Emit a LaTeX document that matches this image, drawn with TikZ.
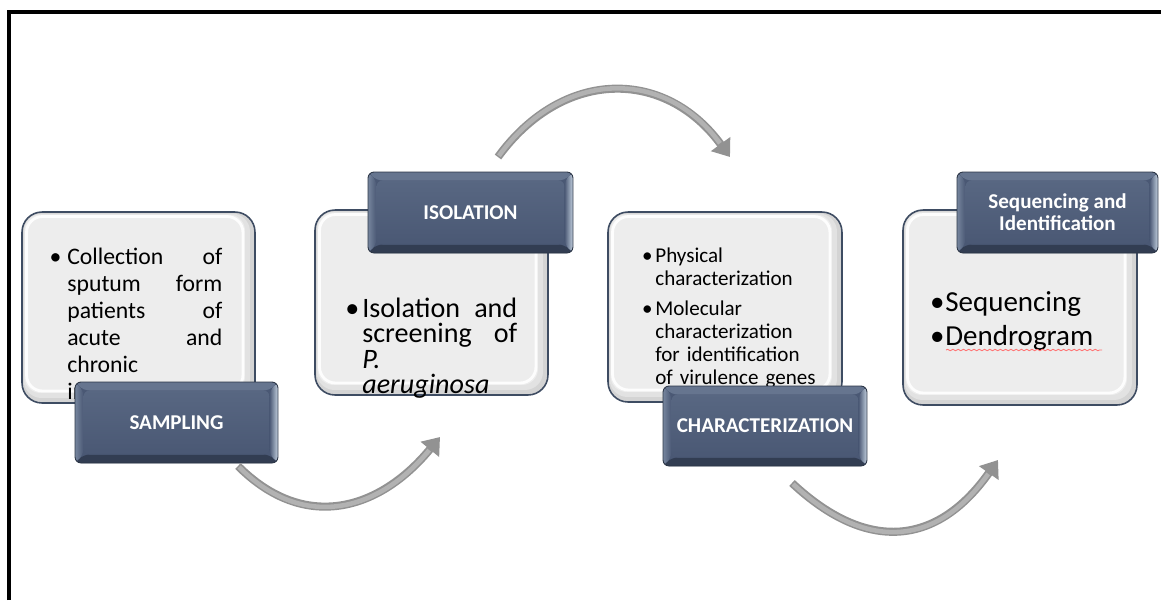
\documentclass[tikz,border=0pt]{standalone}
\usepackage{fontspec}
\setmainfont{Carlito}
\usetikzlibrary{calc,arrows.meta,decorations.pathmorphing}

\definecolor{slateface}{HTML}{4A5874}
\definecolor{slatehi}{HTML}{586782}
\definecolor{slatetop}{HTML}{66758F}
\definecolor{slatebot}{HTML}{323D52}
\definecolor{slateleft}{HTML}{76859E}
\definecolor{slateright}{HTML}{C3D0DF}
\definecolor{slateline}{HTML}{2C3646}
\definecolor{paperfill}{HTML}{EDEDED}
\definecolor{papermid}{HTML}{E2E2E2}
\definecolor{paperedge}{HTML}{D4D4D4}
\definecolor{paperline}{HTML}{3E4C62}
\definecolor{arrowedge}{HTML}{929292}
\definecolor{arrowgray}{HTML}{B2B2B2}

\newcommand{\bul}[1]{\leavevmode\llap{\textbullet\hspace{#1}}}

\tikzset{
  paperbox/.style={draw=paperline, line width=0.9pt, rounded corners=0.4cm, fill=paperfill, inner sep=0pt,
    path picture={
      \path (path picture bounding box.south west) coordinate (pbsw)
            (path picture bounding box.north east) coordinate (pbne);
      \fill[paperedge] (pbsw) rectangle (pbne);
      \fill[papermid, rounded corners=0.36cm] ($(pbsw)+(0.03cm,0.1cm)$) rectangle ($(pbne)+(-0.1cm,-0.03cm)$);
      \fill[paperfill, rounded corners=0.32cm] ($(pbsw)+(0.05cm,0.2cm)$) rectangle ($(pbne)+(-0.2cm,-0.05cm)$);
      \draw[white, line width=1.6pt, rounded corners=0.32cm, opacity=0.9] ($(pbsw)+(0.09cm,0.24cm)$) rectangle ($(pbne)+(-0.24cm,-0.09cm)$);
    }},
  paptext/.style={anchor=base west, inner sep=0pt, align=left},
  slatebox/.style={draw=slateline, line width=0.5pt, rounded corners=0.12cm, fill=slateface, text=white,
    inner sep=0pt, align=center, font=\bfseries\fontsize{12}{13}\selectfont,
    path picture={
      \path (path picture bounding box.south west) coordinate (bvsw)
            (path picture bounding box.north east) coordinate (bvne)
            (path picture bounding box.north west) coordinate (bvnw)
            (path picture bounding box.south east) coordinate (bvse);
      \fill[slatetop] (bvnw) -- (bvne) -- ($(bvne)+(-0.17cm,-0.17cm)$) -- ($(bvnw)+(0.17cm,-0.17cm)$) -- cycle;
      \fill[slatebot] (bvsw) -- (bvse) -- ($(bvse)+(-0.17cm,0.17cm)$) -- ($(bvsw)+(0.17cm,0.17cm)$) -- cycle;
      \shade[left color=slateface, right color=slateright] (bvne) -- (bvse) -- ($(bvse)+(-0.17cm,0.17cm)$) -- ($(bvne)+(-0.17cm,-0.17cm)$) -- cycle;
      \shade[left color=slateleft, right color=slateface] (bvnw) -- ($(bvnw)+(0.17cm,-0.17cm)$) -- ($(bvsw)+(0.17cm,0.17cm)$) -- (bvsw) -- cycle;
      \shade[top color=slatehi, bottom color=slateface] ($(bvsw)+(0.17cm,0.17cm)$) rectangle ($(bvne)+(-0.17cm,-0.17cm)$);
    }},
  flowarrow/.style={draw=arrowedge, line width=4.6pt, -{Triangle[length=0.32cm, width=0.46cm]},
    postaction={draw=arrowgray, line width=2.6pt, -, shorten >=0.34cm, shorten <=0.03cm}},
}

\begin{document}
\begin{tikzpicture}[x=0.02cm, y=-0.02cm]
  \useasboundingbox (0,0) rectangle (1161,600);
  \draw[line width=2.3pt] (9,600) -- (9,12) -- (1161,12);

  % sampling
  \node[paperbox, minimum width=4.66cm, minimum height=3.82cm] (p1) at (138.5,307.5) {};
  \node[paptext, text width=3.1cm, font=\fontsize{13.5}{15.4}\selectfont] (t1) at (67,264.5)
    {\bul{3.4pt}Collection\hfill of\\ sputum\hfill form\\ patients\hfill of\\ acute\hfill and\\ chronic\\ infection};
  \node[slatebox, minimum width=4.06cm, minimum height=1.62cm] (samp) at (176.5,422.5) {SAMPLING};

  % isolation
  \node[paperbox, minimum width=4.66cm, minimum height=3.7cm] (p2) at (431.5,302.5) {};
  \node[paptext, text width=3.1cm, font=\fontsize{16}{14.6}\selectfont] (t2) at (362,317)
    {\bul{1.7pt}Isolation\hfill and\\ screening\hfill of\\ \textit{P.}\\ \textit{aeruginosa}};
  \node[slatebox, minimum width=4.1cm, minimum height=1.62cm] (isol) at (470.5,212.5) {ISOLATION};

  % characterization
  \node[paperbox, minimum width=4.68cm, minimum height=3.8cm] (p3) at (725,307) {};
  \node[paptext, text width=3.4cm, font=\fontsize{12}{13.1}\selectfont] (t3) at (655,262)
    {\bul{1.5pt}Physical\\ characterization\par\vspace{4pt}
     \bul{1.5pt}Molecular\\ characterization\\ for identification\\ of virulence genes};
  \node[slatebox, minimum width=4.08cm, minimum height=1.6cm] (char) at (765,426) {CHARACTERIZATION};

  % sequencing
  \node[paperbox, minimum width=4.68cm, minimum height=3.9cm] (p4) at (1020,307.5) {};
  \node[paptext, text width=3.6cm, font=\fontsize{16.5}{19.9}\selectfont] (t4) at (945,311)
    {\bul{0.5pt}Sequencing\\ \bul{0.5pt}Dendrogram};
  \draw[red!55, line width=0.5pt, decorate, decoration={snake, amplitude=0.4pt, segment length=3pt}]
    (946,350) -- (1102,350);
  \node[slatebox, minimum width=4.02cm, minimum height=1.62cm, font=\bfseries\fontsize{12}{12.5}\selectfont]
    (seqid) at (1057.5,212.5) {Sequencing and\\ Identification};

  % arrows between stages
  \coordinate (a1s) at (238,466);
  \coordinate (a1e) at (440,437);
  \coordinate (a2s) at (498,157);
  \coordinate (a2e) at (730,157);
  \coordinate (a3s) at (792,483);
  \coordinate (a3e) at (998,460);
  \draw[flowarrow] (a1s) .. controls (305,533) and (380,510) .. (a1e);
  \draw[flowarrow] (a2s) .. controls (563,68) and (665,68) .. (a2e);
  \draw[flowarrow] (a3s) .. controls (868,554) and (938,545) .. (a3e);
\end{tikzpicture}
\end{document}
